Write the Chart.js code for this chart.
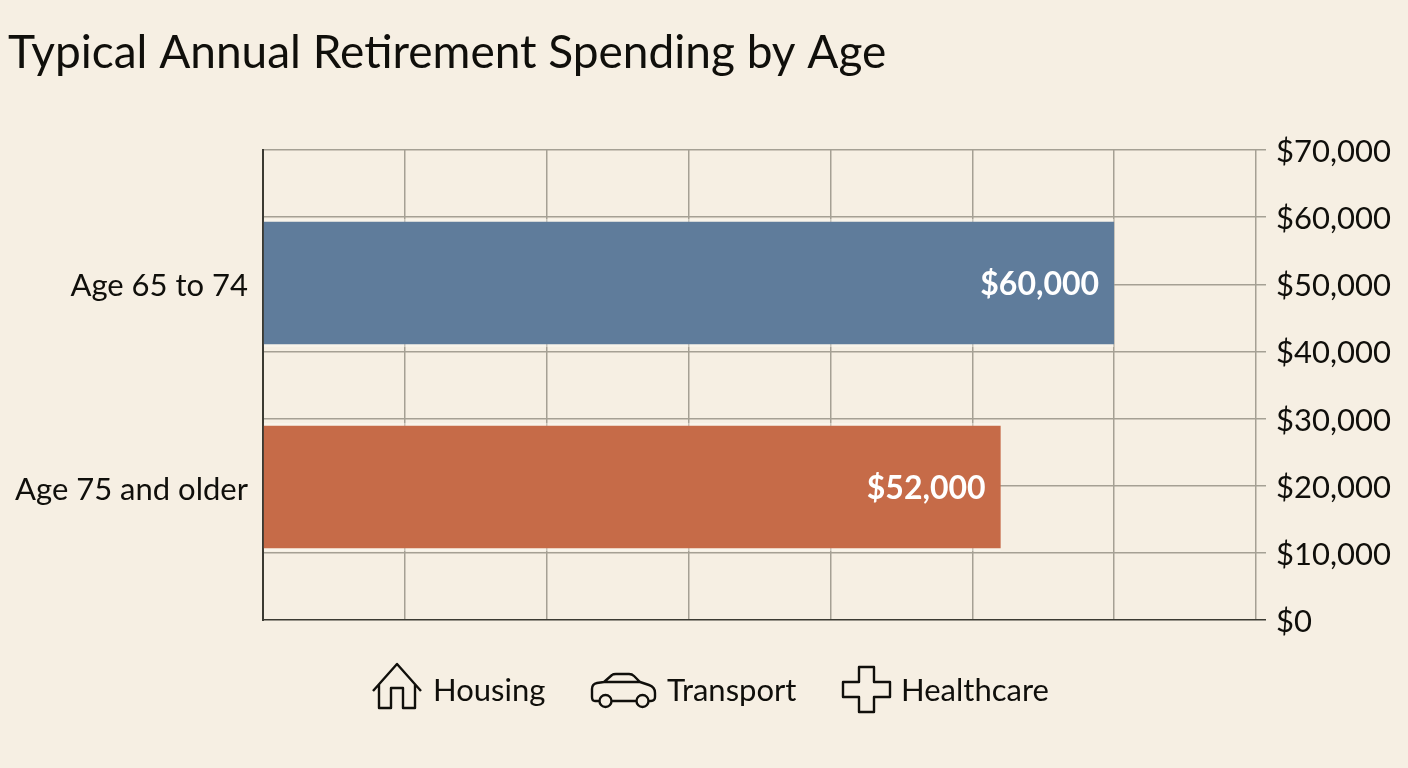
<!DOCTYPE html>
<html>
<head>
<meta charset="utf-8">
<style>
  html, body { margin: 0; padding: 0; background: #f6efe3; }
  #wrap { width: 1408px; height: 768px; }
</style>
<script src="https://cdn.jsdelivr.net/npm/chart.js@4/dist/chart.umd.min.js"></script>
</head>
<body>
<div id="wrap"><canvas id="chart" width="1408" height="768"></canvas></div>
<script>
const chartTitle = 'Typical Annual Retirement Spending by Age';
const categories = ['Age 65 to 74', 'Age 75 and older'];
const spending = [60000, 52000];
const barColors = ['#5f7c9b', '#c66b48'];
const legendNames = ['Housing', 'Transport', 'Healthcare'];
const dollarTicks = [0, 10000, 20000, 30000, 40000, 50000, 60000, 70000];

const FONT = 'Lato, "Noto Sans", sans-serif';
const INK = '#100f0b';
const GRID = '#a5a094';
const AXIS = '#3b3a32';
const money = v => '$' + v.toLocaleString('en-US');
const isBaseline = c => !!c.tick && c.tick.value === 0;

// Outline icons shown next to each legend label; origin is the icon's left edge, mid-height.
const icons = {
  Housing(c) {
    c.moveTo(0, 1); c.lineTo(24, -26); c.lineTo(48, 1);
    c.moveTo(6, -6); c.lineTo(6, 18); c.lineTo(18, 18); c.lineTo(18, -2);
    c.lineTo(30, -2); c.lineTo(30, 18); c.lineTo(42, 18); c.lineTo(42, -6);
  },
  Transport(c) {
    c.moveTo(9, 11); c.lineTo(4, 11); c.quadraticCurveTo(1, 11, 1, 7);
    c.lineTo(1, -1); c.quadraticCurveTo(1, -6, 6, -7); c.lineTo(13, -8);
    c.lineTo(21, -15); c.quadraticCurveTo(22, -16, 25, -16); c.lineTo(38, -16);
    c.quadraticCurveTo(41, -16, 43, -14); c.lineTo(49, -8); c.lineTo(58, -5);
    c.quadraticCurveTo(64, -3, 64, 3); c.lineTo(64, 7); c.quadraticCurveTo(64, 11, 60, 11);
    c.lineTo(57, 11);
    c.moveTo(20, 11); c.lineTo(46, 11);
    c.moveTo(13, -8); c.lineTo(49, -8);
    c.moveTo(20.5, 11); c.arc(14.5, 11, 6, 0, Math.PI * 2);
    c.moveTo(57.5, 11); c.arc(51.5, 11, 6, 0, Math.PI * 2);
  },
  Healthcare(c) {
    c.moveTo(16, -23); c.lineTo(31, -23); c.lineTo(31, -8); c.lineTo(47, -8);
    c.lineTo(47, 7); c.lineTo(31, 7); c.lineTo(31, 22); c.lineTo(16, 22);
    c.lineTo(16, 7); c.lineTo(0, 7); c.lineTo(0, -8); c.lineTo(16, -8); c.closePath();
  }
};
const legendIconX = [373, 591, 843];
const legendTextX = [433, 667, 901];
const LEGEND_Y = 690;

// Draws the icon legend and the value labels inside the bars.
const annotations = {
  id: 'annotations',
  afterDatasetsDraw(chart) {
    const c = chart.ctx;
    c.save();
    c.font = 'bold 32px ' + FONT;
    c.fillStyle = '#ffffff';
    c.textAlign = 'right';
    c.textBaseline = 'middle';
    chart.getDatasetMeta(0).data.forEach((bar, i) => {
      c.fillText(money(spending[i]), bar.x - 15, bar.y + 2);
    });
    c.font = '31px ' + FONT;
    c.fillStyle = INK;
    c.textAlign = 'left';
    c.strokeStyle = INK;
    c.lineWidth = 2.4;
    c.lineJoin = 'round';
    legendNames.forEach((name, i) => {
      c.save();
      c.translate(legendIconX[i], LEGEND_Y);
      c.beginPath();
      icons[name](c);
      c.stroke();
      c.restore();
      c.fillText(name, legendTextX[i], LEGEND_Y + 1);
    });
    c.restore();
  }
};

new Chart(document.getElementById('chart'), {
  type: 'bar',
  plugins: [annotations],
  data: {
    datasets: [{
      data: spending.map((v, i) => ({ x: v, y: i + 1 })),
      backgroundColor: barColors,
      borderColor: 'rgba(255, 252, 245, 0.4)',
      borderWidth: { top: 3, bottom: 3, left: 0, right: 0 },
      borderSkipped: false,
      barThickness: 128
    }]
  },
  options: {
    indexAxis: 'y',
    responsive: false,
    animation: false,
    layout: { padding: { top: 0, left: 8, right: 0, bottom: 148 } },
    plugins: {
      legend: { display: false },
      tooltip: { enabled: false },
      title: {
        display: true,
        text: chartTitle,
        align: 'start',
        color: INK,
        font: { family: FONT, size: 46, weight: 'normal', lineHeight: 1.2 },
        padding: { top: 26, bottom: 68.8 }
      }
    },
    scales: {
      x: {
        type: 'linear',
        min: 0,
        max: 70000,
        afterBuildTicks: s => { s.ticks = dollarTicks.map(value => ({ value })); },
        ticks: { display: false },
        border: { display: false },
        grid: { color: GRID, lineWidth: 1.5, drawTicks: false }
      },
      y: {
        type: 'linear',
        reverse: true,
        offset: false,
        // Leaves the extra space above and below the two bars.
        min: 0.348,
        max: 2.652,
        afterBuildTicks: s => { s.ticks = categories.map((_, i) => ({ value: i + 1 })); },
        afterFit: s => { s.width = 255; },
        ticks: {
          color: INK,
          padding: 15,
          labelOffset: 3,
          font: { family: FONT, size: 31 },
          callback: v => categories[v - 1]
        },
        border: { display: true, color: AXIS, width: 2 },
        grid: { display: false, drawTicks: false, offset: false }
      },
      dollars: {
        type: 'linear',
        position: 'right',
        offset: false,
        min: 0,
        max: 70000,
        afterBuildTicks: s => { s.ticks = dollarTicks.map(value => ({ value })); },
        afterFit: s => { s.width = 152; },
        ticks: {
          color: INK,
          padding: 10,
          labelOffset: 2,
          font: { family: FONT, size: 31 },
          callback: v => money(v)
        },
        border: { display: false },
        grid: {
          offset: false,
          color: c => (isBaseline(c) ? AXIS : GRID),
          tickColor: c => (isBaseline(c) ? AXIS : GRID),
          lineWidth: 1.5,
          tickLength: 10,
          drawOnChartArea: true
        }
      }
    }
  }
});
</script>
</body>
</html>
